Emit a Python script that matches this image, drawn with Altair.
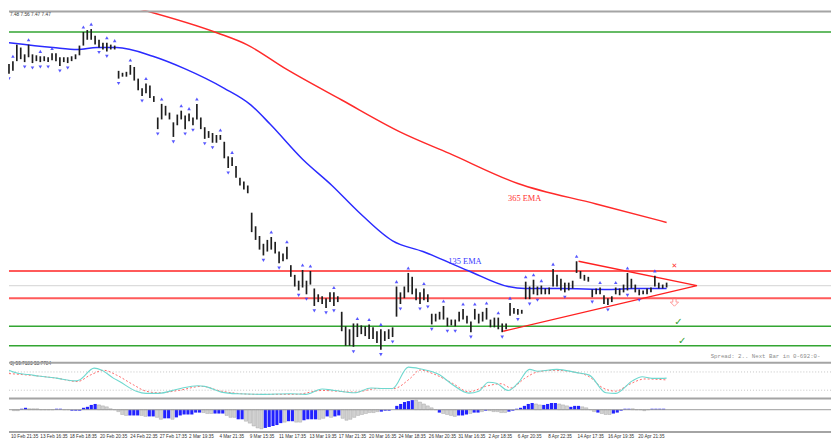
import altair as alt
import pandas as pd

# ---------------- price bars (bar index, high, low) ----------------
high = [8.625, 8.64, 8.725, 8.71, 8.675, 8.725, 8.675, 8.67, 8.665, 8.665,
        8.66, 8.68, 8.68, 8.66, 8.66, 8.66, 8.665, 8.675, 8.72, 8.79,
        8.80, 8.805, 8.77, 8.75, 8.735, 8.735, 8.725, 8.72, 8.59, 8.58,
        8.585, 8.62, 8.61, 8.55, 8.50, 8.525, 8.515, 8.46, 8.35, 8.42,
        8.41, 8.375, 8.325, 8.365, 8.385, 8.36, 8.37, 8.35, 8.42, 8.35,
        8.30, 8.28, 8.27, 8.26, 8.26, 8.225, 8.15, 8.145, 8.10, 8.04,
        8.02, 8.00, 7.86, 7.79, 7.74, 7.70, 7.72, 7.735, 7.71, 7.66,
        7.65, 7.685, 7.59, 7.54, 7.51, 7.565, 7.51, 7.56, 7.47, 7.44,
        7.43, 7.42, 7.45, 7.45, 7.43, 7.35, 7.275, 7.26, 7.29, 7.29,
        7.28, 7.275, 7.285, 7.27, 7.25, 7.26, 7.25, 7.26, 7.27, 7.48,
        7.45, 7.48, 7.55, 7.53, 7.47, 7.45, 7.47, 7.44, 7.34, 7.34,
        7.35, 7.38, 7.32, 7.31, 7.31, 7.35, 7.365, 7.33, 7.30, 7.365,
        7.34, 7.35, 7.37, 7.31, 7.32, 7.32, 7.29, 7.29, 7.395, 7.37,
        7.365, 7.36, 7.505, 7.48, 7.515, 7.48, 7.485, 7.47, 7.475, 7.57,
        7.54, 7.52, 7.50, 7.50, 7.51, 7.61, 7.56, 7.54, 7.53, 7.465,
        7.47, 7.475, 7.435, 7.42, 7.43, 7.475, 7.47, 7.49, 7.55, 7.52,
        7.49, 7.465, 7.46, 7.47, 7.475, 7.535, 7.50, 7.49, 7.50]
low = [8.575, 8.59, 8.64, 8.65, 8.635, 8.66, 8.63, 8.64, 8.635, 8.64,
       8.635, 8.645, 8.64, 8.615, 8.635, 8.63, 8.64, 8.65, 8.67, 8.72,
       8.75, 8.75, 8.725, 8.71, 8.70, 8.69, 8.70, 8.70, 8.55, 8.56,
       8.56, 8.57, 8.54, 8.49, 8.46, 8.475, 8.45, 8.43, 8.29, 8.34,
       8.36, 8.34, 8.25, 8.31, 8.34, 8.29, 8.33, 8.31, 8.34, 8.29,
       8.24, 8.245, 8.22, 8.22, 8.235, 8.14, 8.09, 8.10, 8.04, 8.00,
       7.98, 7.96, 7.76, 7.72, 7.67, 7.64, 7.66, 7.67, 7.65, 7.60,
       7.61, 7.62, 7.53, 7.48, 7.46, 7.475, 7.44, 7.49, 7.38, 7.40,
       7.39, 7.37, 7.40, 7.38, 7.40, 7.25, 7.175, 7.175, 7.17, 7.22,
       7.235, 7.225, 7.21, 7.21, 7.19, 7.155, 7.20, 7.21, 7.22, 7.325,
       7.39, 7.42, 7.45, 7.44, 7.41, 7.39, 7.41, 7.40, 7.285, 7.30,
       7.31, 7.31, 7.275, 7.28, 7.275, 7.30, 7.31, 7.29, 7.245, 7.31,
       7.29, 7.30, 7.31, 7.27, 7.27, 7.26, 7.245, 7.26, 7.33, 7.34,
       7.335, 7.34, 7.415, 7.415, 7.44, 7.435, 7.44, 7.44, 7.44, 7.48,
       7.48, 7.46, 7.45, 7.46, 7.47, 7.55, 7.52, 7.51, 7.505, 7.425,
       7.44, 7.44, 7.39, 7.385, 7.40, 7.44, 7.435, 7.45, 7.46, 7.47,
       7.45, 7.435, 7.44, 7.44, 7.45, 7.48, 7.47, 7.47, 7.475]

up_fractals = [1, 5, 8, 11, 19, 21, 25, 27, 31, 35, 39, 44, 46, 48, 54, 57, 67, 71,
               75, 77, 83, 89, 92, 95, 99, 102, 106, 111, 116, 119, 122, 125, 128,
               132, 134, 136, 139, 145, 151, 155, 158, 165]
down_fractals = [0, 4, 6, 8, 10, 13, 15, 23, 25, 28, 34, 38, 42, 45, 47, 50, 52, 56,
                 65, 69, 74, 76, 78, 81, 83, 88, 95, 98, 100, 105, 107, 108, 112,
                 114, 118, 126, 130, 133, 135, 142, 149, 153, 158, 161]

# ---------------- moving averages ----------------
ema135_i = [0, 11.25, 17.5, 22.5, 27.5, 36.75, 45, 55, 61.75, 66.75, 75, 82.5,
            89.25, 98, 105.75, 117.5, 127.5, 131.75, 140.75, 153.25, 160, 168]
ema135_p = [8.735, 8.71, 8.70, 8.71, 8.71, 8.665, 8.60, 8.50, 8.415, 8.315, 8.135,
            8.00, 7.865, 7.715, 7.66, 7.56, 7.48, 7.47, 7.47, 7.465, 7.47, 7.47]
ema365_i = [33, 53.25, 60.75, 70.75, 85, 100, 112.5, 130, 150, 168]
ema365_p = [8.91, 8.785, 8.725, 8.60, 8.44, 8.275, 8.165, 8.01, 7.905, 7.81]

# ---------------- horizontal levels ----------------
green_levels = [8.79, 7.275, 7.175]
red_levels = [7.56, 7.42]
price_line = [7.485]

# triangle (upper-left, apex, lower-left)
tri_i = [145.5, 175.75, 126.25]
tri_p = [7.61, 7.485, 7.25]

# ---------------- stochastic ----------------
stoch_main_i = [0, 2.5, 5, 7.5, 12.5, 16.75, 18, 21.75, 23.75, 26.75, 28.25, 32.5,
                35, 38.25, 43.25, 48.25, 50, 54.25, 58.25, 65, 71.75, 75.75, 80,
                83.25, 88.25, 92.5, 95.75, 98, 102, 105, 110, 113.25, 117.5, 120,
                122.5, 124.5, 127.5, 130, 133, 135, 140, 145, 148.25, 152.5, 155,
                159.25, 161.75, 164.25, 166.75, 168]
stoch_main_v = [85.4, 74.7, 71.5, 66.5, 58.9, 50.7, 53.8, 92.7, 85.4, 58.9, 48.4,
                16.8, 9.6, 9.6, 24.1, 34.9, 32.6, 13.7, 8.3, 6.4, 8.3, 6.4, 24.1,
                19.1, 11.5, 27.3, 25.4, 25.4, 95.8, 90.5, 70.6, 39, 10.5, 16.8, 46.2,
                43.1, 19.1, 43.1, 88.6, 82.3, 88.6, 77.8, 69.6, 11.5, 9.6, 50.7,
                64.2, 58.9, 58.9, 59.7]
stoch_sig_i = [0, 5, 12.5, 17.5, 20.75, 24.25, 27.5, 31.75, 35, 38.25, 43.25, 49.25,
               54.25, 63.25, 73.25, 80, 88.25, 94.25, 98.25, 102.5, 105, 108.25,
               113.25, 117.5, 121.75, 125.75, 128.25, 131.75, 135, 139.25, 144.25,
               148.25, 151.75, 155, 158.25, 162.5, 168]
stoch_sig_v = [74.7, 69.6, 58.9, 48.4, 69.6, 85.4, 69.6, 38, 16.8, 11.5, 19.1, 32.6,
               16.8, 6.4, 6.4, 19.1, 13.7, 25.4, 25.4, 58.9, 86.4, 74.7, 43.1, 14.6,
               32.6, 41.2, 27.3, 58.9, 80, 85.4, 80, 64.2, 27.3, 16.8, 38, 57, 53.8]
stoch_levels = [80, 20]

# ---------------- OsMA histogram (points) ----------------
osma = [-1, -1, 1, 2, 1, 1, 1, 0, 0, 0, 0, 1, 1, 0, 0, -1, -1, -1, 2, 3,
        5, 6, 5, 4, 3, 1, 0, -2, -5, -6, -6, -6, -6, -6, -7, -7, -7, -8, -10, -9,
        -9, -10, -8, -6, -5, -5, -5, -3, -3, -3, -4, -4, -4, -4, -4, -6, -8, -8, -10, -10,
        -12, -14, -17, -19, -20, -19, -18, -17, -16, -14, -13, -12, -12, -13, -13, -11, -10, -10, -10, -10,
        -9, -7, -8, -7, -6, -9, -11, -10, -8, -6, -5, -4, -3, -3, -2, -2, -1, -1, 0, 4,
        6, 8, 9, 10, 10, 8, 6, 4, 2, 0, -3, -4, -5, -6, -7, -6, -6, -5, -4, -3,
        -3, -2, -1, -1, -2, -2, -3, -3, -2, -1, 1, 2, 4, 6, 7, 6, 5, 5, 6, 7,
        7, 6, 5, 4, 3, 4, 4, 3, 2, 0, -2, -3, -4, -5, -5, -4, -3, -1, 1, 1,
        1, 0, 0, -1, 0, 1, 1, 1, 1]
osma_kind = ("GGBBGGGGGG" "GBBGGBBBBB" "BBGGGGGGGG" "BBBGGBBGGB" "BGBBBBBBBG"
             "GGBBBGGGBB" "GGGGGBBBBB" "GBBGGBBBBG" "GBGBBGGGGG" "GGGGGBBBBB"
             "BBBBGGGGGG" "BGGGGBBBGB" "BGBGGGGGBB" "BBBBBGGBBB" "BGGGBBBGGG"
             "GBGGGBBBBB" "GGGGGBBBB")

# ---------------- time axis labels ----------------
time_labels = ["10 Feb 21:35", "13 Feb 16:35", "18 Feb 18:35", "20 Feb 20:35",
               "24 Feb 22:35", "27 Feb 17:35", "2 Mar 19:35", "4 Mar 21:35",
               "9 Mar 15:35", "11 Mar 17:35", "13 Mar 19:35", "17 Mar 21:35",
               "20 Mar 16:35", "24 Mar 18:35", "26 Mar 20:35", "31 Mar 16:35",
               "2 Apr 18:35", "6 Apr 20:35", "8 Apr 22:35", "14 Apr 17:35",
               "16 Apr 19:35", "20 Apr 21:35"]
time_label_pos = [0.5, 8, 15.5, 23.25, 31, 38.5, 46, 53.75, 61.5, 69, 76.75, 84.25,
                  92, 99.5, 107.25, 114.75, 122.5, 130, 137.75, 145.25, 153, 160.75]

# ================= build =================
W = 832
XS = alt.Scale(domain=[0, 210], nice=False, zero=False)
PS = alt.Scale(domain=[7.1, 8.9], nice=False, zero=False)
SS = alt.Scale(domain=[-2.1, 111.6], nice=False, zero=False)
OS = alt.Scale(domain=[-21.7, 12.3], nice=False, zero=False)
SEP = "#a4a4a4"
FONT = "Liberation Sans"
DOWN_ARROW = "M-0.4,-1L0.4,-1L0.4,0L1,0L0,1L-1,0L-0.4,0Z"

bars = pd.DataFrame({"i": list(range(len(high))), "high": high, "low": low})
up_df = bars.loc[up_fractals]
dn_df = bars.loc[down_fractals]

def X(field="i"):
    return alt.X(f"{field}:Q", scale=XS, axis=None)

def P(field="p"):
    return alt.Y(f"{field}:Q", scale=PS, axis=None)

sep_top = alt.Chart(pd.DataFrame({"a": [0]})).mark_rule(color=SEP, strokeWidth=2).encode(y=alt.value(1))

lvl_green = alt.Chart(pd.DataFrame({"p": green_levels})).mark_rule(color="#33a532", strokeWidth=1.5).encode(y=P())
lvl_red = alt.Chart(pd.DataFrame({"p": red_levels})).mark_rule(color="#ff5a5a", strokeWidth=2).encode(y=P())
lvl_price = alt.Chart(pd.DataFrame({"p": price_line})).mark_rule(color="#dcdcdc", strokeWidth=1.2).encode(y=P())

ema_blue = alt.Chart(pd.DataFrame({"i": ema135_i, "p": ema135_p})).mark_line(
    color="#2b2bff", strokeWidth=1.5, clip=True, interpolate="monotone").encode(x=X(), y=P())
ema_red = alt.Chart(pd.DataFrame({"i": ema365_i, "p": ema365_p})).mark_line(
    color="#ff2a2a", strokeWidth=1.5, clip=True, interpolate="monotone").encode(x=X(), y=P())

bar_rules = alt.Chart(bars).mark_rule(color="#1e1e1e", strokeWidth=1.7).encode(
    x=X(), y=P("high"), y2="low")

frac_up = alt.Chart(up_df).mark_point(shape="triangle-up", filled=True, size=13,
                                      color="#4646ff", opacity=0.9, yOffset=-5, clip=True).encode(
    x=X(), y=P("high"))
frac_dn = alt.Chart(dn_df).mark_point(shape="triangle-down", filled=True, size=13,
                                      color="#4646ff", opacity=0.9, yOffset=5, clip=True).encode(
    x=X(), y=P("low"))

tri = alt.Chart(pd.DataFrame({"i": tri_i, "p": tri_p, "o": [0, 1, 2]})).mark_line(
    color="#ff2020", strokeWidth=1.4).encode(x=X(), y=P(), order="o:Q")

def txt(i, p, s, **kw):
    return alt.Chart(pd.DataFrame({"i": [i], "p": [p], "t": [s]})).mark_text(**kw).encode(
        x=X(), y=P(), text="t:N")

t135 = txt(116.5, 7.61, "135 EMA", font="Liberation Serif", fontSize=8.5, color="#3a3aff")
t365 = txt(131.75, 7.935, "365 EMA", font="Liberation Serif", fontSize=8.5, color="#ff3030")
t_x = txt(170, 7.585, "✕", font="DejaVu Sans", fontSize=7, fontWeight="bold", color="#ff2a2a")
sym_dn = alt.Chart(pd.DataFrame({"i": [170], "p": [7.40]})).mark_point(
    shape=DOWN_ARROW, size=70, filled=False, stroke="#ff7070", strokeWidth=1).encode(x=X(), y=P())
t_ok1 = txt(171, 7.295, "✓", font="DejaVu Sans", fontSize=10, fontWeight="bold", color="#2e9e2e")
t_ok2 = txt(172, 7.20, "✓", font="DejaVu Sans", fontSize=10, fontWeight="bold", color="#2e9e2e")
t_ohlc = txt(0, 8.875, "7.48 7.56 7.47 7.47", font=FONT, fontSize=4.8, color="#333333",
             align="left", dx=1)
t_spread = txt(179.25, 7.124, "Spread: 2.. Next Bar in 0-692:0-", font="Liberation Mono",
               fontSize=5.8, color="#8c8c8c", align="left")

main = alt.layer(lvl_price, lvl_green, lvl_red, ema_red, ema_blue, tri, bar_rules,
                 frac_up, frac_dn, t135, t365, t_x, sym_dn, t_ok1, t_ok2, t_ohlc, t_spread,
                 sep_top).properties(width=W, height=354)

# ---- stochastic panel ----
sep0 = alt.Chart(pd.DataFrame({"a": [0]})).mark_rule(color=SEP, strokeWidth=2).encode(y=alt.value(0.5))
st_lv = alt.Chart(pd.DataFrame({"v": stoch_levels})).mark_rule(
    color="#c4c4c4", strokeDash=[1, 2], strokeWidth=1).encode(y=alt.Y("v:Q", scale=SS, axis=None))
st_sig = alt.Chart(pd.DataFrame({"i": stoch_sig_i, "v": stoch_sig_v})).mark_line(
    color="#ff6a6a", strokeDash=[2, 2], strokeWidth=1, clip=True, interpolate="monotone").encode(
    x=X(), y=alt.Y("v:Q", scale=SS, axis=None))
st_main = alt.Chart(pd.DataFrame({"i": stoch_main_i, "v": stoch_main_v})).mark_line(
    color="#6fd8cf", strokeWidth=1.1, clip=True, interpolate="monotone").encode(
    x=X(), y=alt.Y("v:Q", scale=SS, axis=None))
st_txt = alt.Chart(pd.DataFrame({"i": [0], "v": [106], "t": ["3) 59.7183 53.7784"]})).mark_text(
    font=FONT, fontSize=4.8, color="#333333", align="left", dx=1).encode(
    x=X(), y=alt.Y("v:Q", scale=SS, axis=None), text="t:N")
stoch = alt.layer(st_lv, st_sig, st_main, st_txt, sep0).properties(width=W, height=35)

# ---- OsMA panel ----
osdf = pd.DataFrame({"i": list(range(len(osma))), "v": osma, "k": list(osma_kind)})
os_zero = alt.Chart(pd.DataFrame({"v": [0]})).mark_rule(color="#9a9a9a", strokeWidth=1).encode(
    y=alt.Y("v:Q", scale=OS, axis=None))
os_gray = alt.Chart(osdf).transform_filter(alt.datum.k == "G").mark_bar(
    size=3.2, color="#d2d2d2", stroke="#9c9c9c", strokeWidth=0.4).encode(
    x=X(), y=alt.Y("v:Q", scale=OS, axis=None), y2=alt.datum(0))
os_blue = alt.Chart(osdf).transform_filter(alt.datum.k == "B").mark_bar(
    size=3.2, color="#2222ff").encode(
    x=X(), y=alt.Y("v:Q", scale=OS, axis=None), y2=alt.datum(0))
osma_panel = alt.layer(os_gray, os_blue, os_zero, sep0).properties(width=W, height=33)

# ---- time labels ----
lab = alt.Chart(pd.DataFrame({"i": time_label_pos, "t": time_labels})).mark_text(
    font=FONT, fontSize=4.7, color="#333333", align="left", baseline="middle").encode(
    x=X(), y=alt.value(5.5), text="t:N")
labels = alt.layer(sep0, lab).properties(width=W, height=10)

chart = alt.vconcat(main, stoch, osma_panel, labels, spacing=0).properties(
    padding=0, background="white").configure_view(stroke=None)

chart.save("out.html", embed_options={"renderer": "svg", "actions": False})
